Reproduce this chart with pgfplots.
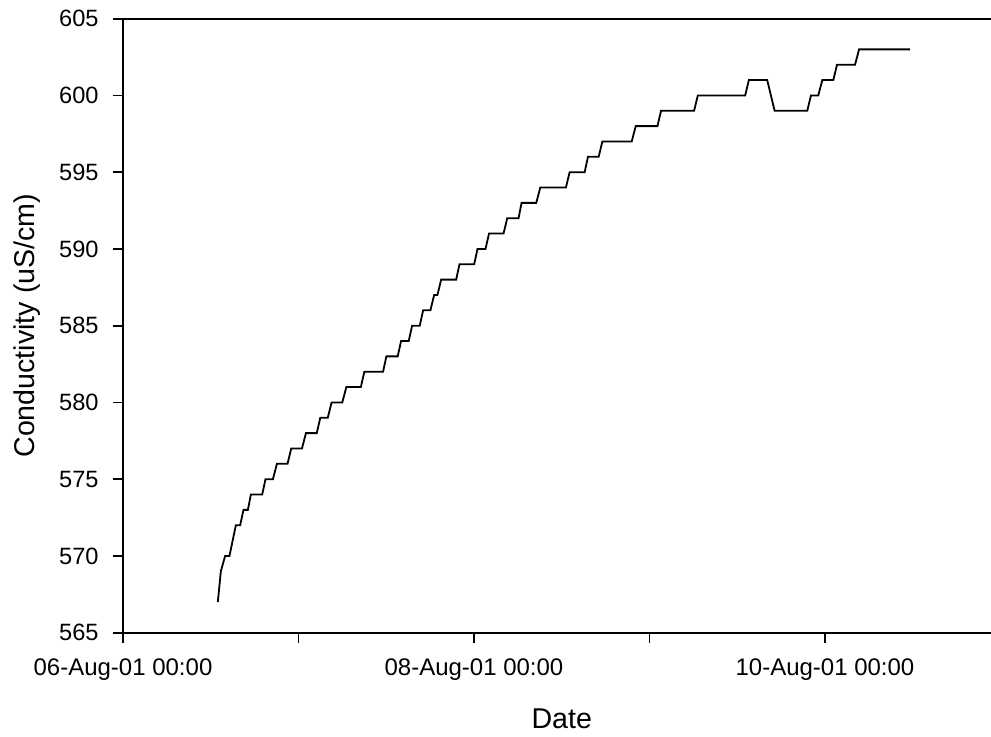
\documentclass[border=0pt]{standalone}
\usepackage{fontspec}
\setmainfont{Liberation Sans}
\usepackage{pgfplots}
\pgfplotsset{compat=1.18}
\begin{document}
\begin{tikzpicture}
\begin{axis}[
  at={(0pt,0pt)}, anchor=south west,
  scale only axis, width=438.75pt, height=307pt,
  xmin=0, xmax=5, ymin=565, ymax=605,
  xtick={0,1,2,3,4},
  xticklabels={06-Aug-01 00:00,,08-Aug-01 00:00,,10-Aug-01 00:00},
  ytick={565,570,...,605},
  xtick pos=bottom, ytick pos=left,
  tick align=outside, major tick length=5pt,
  tick style={black, line width=0.9pt},
  axis line style={black, line width=0.9pt},
  xticklabel style={font=\fontsize{12}{14}\selectfont, anchor=base, inner sep=0pt, yshift=-16.5pt},
  yticklabel style={font=\fontsize{11.8}{14}\selectfont, anchor=east, inner sep=0pt, xshift=-7pt},
  /pgf/number format/assume math mode=true,
  xlabel={Date}, ylabel={Conductivity (uS/cm)},
  xlabel style={font=\fontsize{14.3}{16}\selectfont, at={(axis description cs:0.5,0)}, anchor=base, yshift=-48pt},
  ylabel style={font=\fontsize{14.3}{16}\selectfont, at={(axis description cs:0,0.5)}, anchor=center, yshift=47.75pt},
  clip=false,
]
\addplot[black, line width=0.9pt] coordinates {
(0.5404,567)(0.5575,569)(0.5820,570)(0.6066,570)(0.6431,572)(0.6676,572)(0.6865,573)(0.7116,573)(0.7287,574)(0.7932,574)(0.8120,575)(0.8542,575)(0.8770,576)(0.9375,576)(0.9586,577)(1.0197,577)(1.0425,578)(1.1041,578)(1.1241,579)(1.1669,579)(1.1886,580)(1.2496,580)(1.2725,581)(1.3552,581)(1.3752,582)(1.4819,582)(1.5007,583)(1.5652,583)(1.5846,584)(1.6280,584)(1.6474,585)(1.6908,585)(1.7101,586)(1.7518,586)(1.7729,587)(1.7917,587)(1.8128,588)(1.8984,588)(1.9173,589)(2.0011,589)(2.0200,590)(2.0656,590)(2.0856,591)(2.1683,591)(2.1894,592)(2.2539,592)(2.2710,593)(2.3549,593)(2.3777,594)(2.5238,594)(2.5449,595)(2.6305,595)(2.6493,596)(2.7104,596)(2.7315,597)(2.8987,597)(2.9215,598)(3.0453,598)(3.0659,599)(3.2542,599)(3.2753,600)(3.5452,600)(3.5663,601)(3.6708,601)(3.7130,599)(3.8990,599)(3.9201,600)(3.9617,600)(3.9846,601)(4.0474,601)(4.0685,602)(4.1712,602)(4.1940,603)(4.4850,603)
};
\end{axis}
\pgfresetboundingbox
\path[use as bounding box] (-61.5pt,-52.15pt) rectangle (434pt,316.35pt);
\end{tikzpicture}
\end{document}
